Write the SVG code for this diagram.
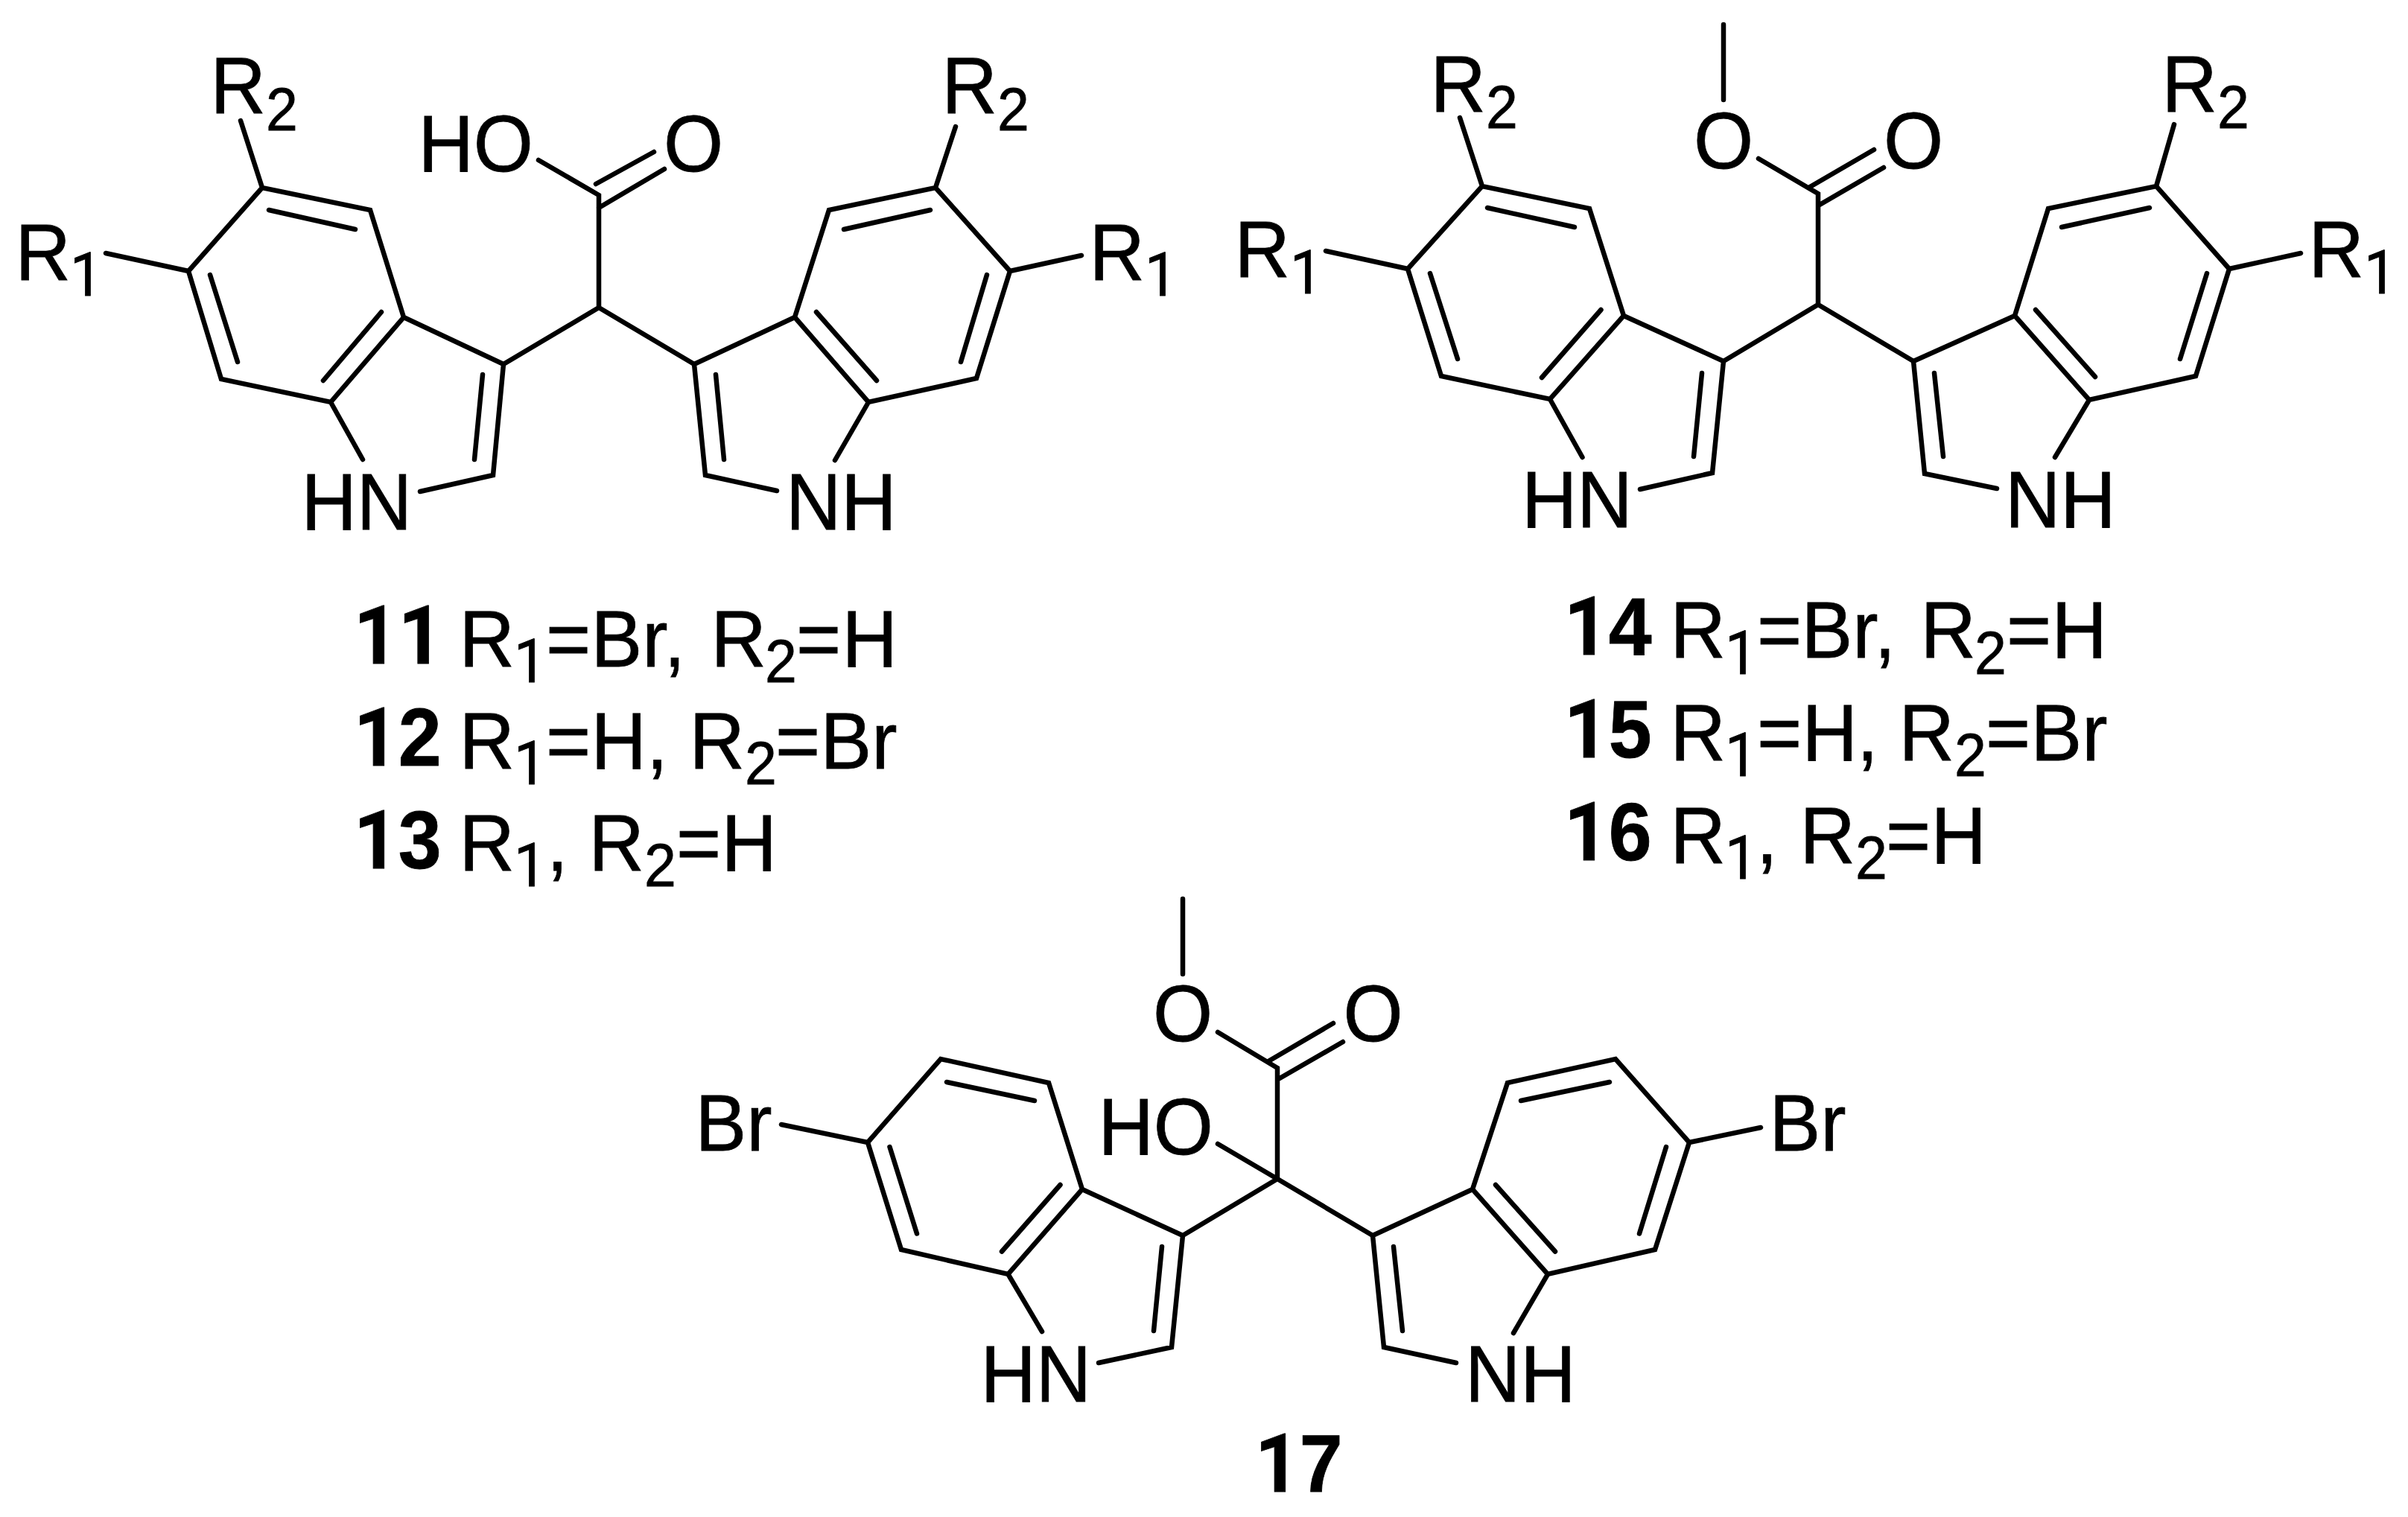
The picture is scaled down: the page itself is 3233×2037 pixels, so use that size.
<svg xmlns="http://www.w3.org/2000/svg" width="3233" height="2037" viewBox="0 0 3233 2037">
<style>
.b{fill:none;stroke:#000;stroke-width:6.5;stroke-linecap:round;stroke-linejoin:miter}
text{font-family:"Liberation Sans",Arial,sans-serif;font-size:103px;fill:#000;stroke:#000;stroke-width:.8}
.s{font-size:77px}
.o{font-family:Roboto,"Liberation Sans",sans-serif}
.n{font-weight:bold;font-size:104px}
</style>
<rect width="3233" height="2037" fill="#fff"/>
<g id="molecule-11-13">
<path class="b" d="M253 364L352 252L497 282L542 426L444 540L297 509ZM253 364L142 340M352 252L323 162M361 282L477 308M282 369L319 486M512 419L434 511M542 426L676 489L662 638L564 660M444 540L487 617M648 503L637 617M676 489L804 413L932 489M804 413V262L723 215M800 247L878 204M804 279L892 227"/>
<path class="b" d="M1356 364L1256 252L1113 282L1067 426L1166 540L1311 508ZM1356 364L1452 343M1256 252L1283 170M1249 282L1133 308M1325 369L1290 486M1096 419L1177 511M1067 426L932 489L947 638L1043 659M1166 540L1121 618M961 503L972 617"/>
<text transform="matrix(1 0 0 1.05 20.500 376)">R</text><text class="s o" transform="matrix(1 0 0 1.05 94 397)">1</text>
<text transform="matrix(1 0 0 1.05 282.500 152)">R</text><text class="s" transform="matrix(1 0 0 1.05 357 175)">2</text>
<text transform="matrix(1 0 0 1.05 561.500 230)">HO</text>
<text transform="matrix(1 0 0 1.05 891 230)">O</text>
<text transform="matrix(1 0 0 1.05 404.500 711)">HN</text>
<text transform="matrix(1 0 0 1.05 1055 711)">NH</text>
<text transform="matrix(1 0 0 1.05 1264.500 152)">R</text><text class="s" transform="matrix(1 0 0 1.05 1339 175)">2</text>
<text transform="matrix(1 0 0 1.05 1462.500 376)">R</text><text class="s o" transform="matrix(1 0 0 1.05 1537 397)">1</text>
</g>
<g id="labels-11-13">
<text class="n" transform="matrix(1 0 0 1.05 475 891)"><tspan class="o">11</tspan></text>
<text transform="matrix(1 0 0 1.05 616.500 895)">R</text><text class="s o" transform="matrix(1 0 0 1.05 690 916)">1</text><text transform="matrix(1 0 0 1.05 733 895)">=</text><text transform="matrix(1 0 0 1.05 793.500 895)">Br<tspan dx="-5">,</tspan></text><text transform="matrix(1 0 0 1.05 954.500 895)">R</text><text class="s" transform="matrix(1 0 0 1.05 1027 916)">2</text><text transform="matrix(1 0 0 1.05 1069 895)">=</text><text transform="matrix(1 0 0 1.05 1130.500 895)">H</text>
<text class="n" transform="matrix(1 0 0 1.05 475 1028)"><tspan class="o">1</tspan>2</text>
<text transform="matrix(1 0 0 1.05 616.500 1032)">R</text><text class="s o" transform="matrix(1 0 0 1.05 690 1053)">1</text><text transform="matrix(1 0 0 1.05 733 1032)">=</text><text transform="matrix(1 0 0 1.05 793.500 1032)">H</text><text transform="matrix(1 0 0 1.05 868 1032)">,</text><text transform="matrix(1 0 0 1.05 925.500 1032)">R</text><text class="s" transform="matrix(1 0 0 1.05 1000 1053)">2</text><text transform="matrix(1 0 0 1.05 1041 1032)">=</text><text transform="matrix(1 0 0 1.05 1101.500 1032)">Br</text>
<text class="n" transform="matrix(1 0 0 1.05 475 1166)"><tspan class="o">1</tspan>3</text>
<text transform="matrix(1 0 0 1.05 616.500 1169)">R</text><text class="s o" transform="matrix(1 0 0 1.05 690 1190)">1</text><text transform="matrix(1 0 0 1.05 734 1169)">,</text><text transform="matrix(1 0 0 1.05 790.500 1169)">R</text><text class="s" transform="matrix(1 0 0 1.05 865 1190)">2</text><text transform="matrix(1 0 0 1.05 908 1169)">=</text><text transform="matrix(1 0 0 1.05 968.500 1169)">H</text>
</g>
<g id="molecule-14-16">
<path class="b" d="M1890 361L1990 250L2134 280L2180 424L2081 536L1935 505ZM1890 361L1780 337M1990 250L1960 158M1997 279L2114 305M1920 367L1957 482M2149.500 416L2070 507M2180 424L2314 485L2299 635L2202 657M2081 536L2124.500 614M2285 501L2274 613M2314 485L2441 409L2569 485M2441 409V260L2361 213M2314 33V134M2430 251L2516 201M2443 275L2529 225"/>
<path class="b" d="M2993 361L2895 250L2750 280L2705 424L2805 537L2948 505ZM2993 361L3089 340M2895 250L2919 167M2886 279L2768 305M2963 367L2927 482M2733 416L2813 506M2705 424L2569 485L2584 636L2681 656M2805 537L2759 614M2597 501L2609 613"/>
<text transform="matrix(1 0 0 1.05 1657.500 372)">R</text><text class="s o" transform="matrix(1 0 0 1.05 1732 394)">1</text>
<text transform="matrix(1 0 0 1.05 1920.500 150)">R</text><text class="s" transform="matrix(1 0 0 1.05 1995 171.500)">2</text>
<text transform="matrix(1 0 0 1.05 2274 226)">O</text><text transform="matrix(1 0 0 1.05 2529 226)">O</text>
<text transform="matrix(1 0 0 1.05 2043 708)">HN</text>
<text transform="matrix(1 0 0 1.05 2692 708)">NH</text>
<text transform="matrix(1 0 0 1.05 2902.500 150)">R</text><text class="s" transform="matrix(1 0 0 1.05 2977 171.500)">2</text>
<text transform="matrix(1 0 0 1.05 3099.500 372)">R</text><text class="s o" transform="matrix(1 0 0 1.05 3174 394)">1</text>
</g>
<g id="labels-14-16">
<text class="n" transform="matrix(1 0 0 1.05 2100 879)"><tspan class="o">1</tspan>4</text>
<text transform="matrix(1 0 0 1.05 2242.500 883)">R</text><text class="s o" transform="matrix(1 0 0 1.05 2316 905)">1</text><text transform="matrix(1 0 0 1.05 2359 883)">=</text><text transform="matrix(1 0 0 1.05 2418.500 883)">Br<tspan dx="-5">,</tspan></text><text transform="matrix(1 0 0 1.05 2578.500 883)">R</text><text class="s" transform="matrix(1 0 0 1.05 2651 905)">2</text><text transform="matrix(1 0 0 1.05 2694 883)">=</text><text transform="matrix(1 0 0 1.05 2754.500 883)">H</text>
<text class="n" transform="matrix(1 0 0 1.05 2100 1017)"><tspan class="o">1</tspan>5</text>
<text transform="matrix(1 0 0 1.05 2242.500 1021)">R</text><text class="s o" transform="matrix(1 0 0 1.05 2316 1042)">1</text><text transform="matrix(1 0 0 1.05 2359 1021)">=</text><text transform="matrix(1 0 0 1.05 2419.500 1021)">H</text><text transform="matrix(1 0 0 1.05 2493 1021)">,</text><text transform="matrix(1 0 0 1.05 2549.500 1021)">R</text><text class="s" transform="matrix(1 0 0 1.05 2624 1042)">2</text><text transform="matrix(1 0 0 1.05 2666 1021)">=</text><text transform="matrix(1 0 0 1.05 2726.500 1021)">Br</text>
<text class="n" transform="matrix(1 0 0 1.05 2100 1155)"><tspan class="o">1</tspan>6</text>
<text transform="matrix(1 0 0 1.05 2242.500 1159)">R</text><text class="s o" transform="matrix(1 0 0 1.05 2316 1180)">1</text><text transform="matrix(1 0 0 1.05 2358 1159)">,</text><text transform="matrix(1 0 0 1.05 2416.500 1159)">R</text><text class="s" transform="matrix(1 0 0 1.05 2491 1180)">2</text><text transform="matrix(1 0 0 1.05 2532 1159)">=</text><text transform="matrix(1 0 0 1.05 2592.500 1159)">H</text>
</g>
<g id="molecule-17">
<path class="b" d="M1165 1534L1263 1422L1408 1454L1453 1597L1353.500 1711L1210 1678ZM1165 1534L1049 1510M1271 1453L1389 1478M1194.500 1540L1231 1656.500M1423.500 1591L1345 1680.500M1453 1597L1588 1659L1573 1809L1475 1830M1353.500 1711L1399 1788M1560 1674L1549 1787M1588 1659L1715 1583L1843 1659M1715 1583V1434L1635 1386M1715 1583L1635 1536M1588 1207V1308M1703 1425L1790 1374M1718 1448L1803 1399"/>
<path class="b" d="M2268 1534L2169 1422L2024 1454L1977 1597L2078 1711L2222 1678ZM2268 1534L2364 1514M2161 1453L2042 1478M2237 1540L2201 1656.500M2008 1591L2088 1680.500M1977 1597L1843 1659L1858 1809L1955 1830M2078 1711L2032 1790M1871 1674L1883 1787"/>
<text transform="matrix(1 0 0 1.05 933.500 1545)">Br</text>
<text transform="matrix(1 0 0 1.05 1548 1398)">O</text><text transform="matrix(1 0 0 1.05 1803.500 1398)">O</text>
<text transform="matrix(1 0 0 1.05 1474.500 1550)">HO</text>
<text transform="matrix(1 0 0 1.05 1316.500 1882)">HN</text>
<text transform="matrix(1 0 0 1.05 1967 1882)">NH</text>
<text transform="matrix(1 0 0 1.05 2375.500 1545)">Br</text>
<text class="n" transform="matrix(1 0 0 1.05 1685 2003)"><tspan class="o">1</tspan>7</text>
</g>
</svg>
